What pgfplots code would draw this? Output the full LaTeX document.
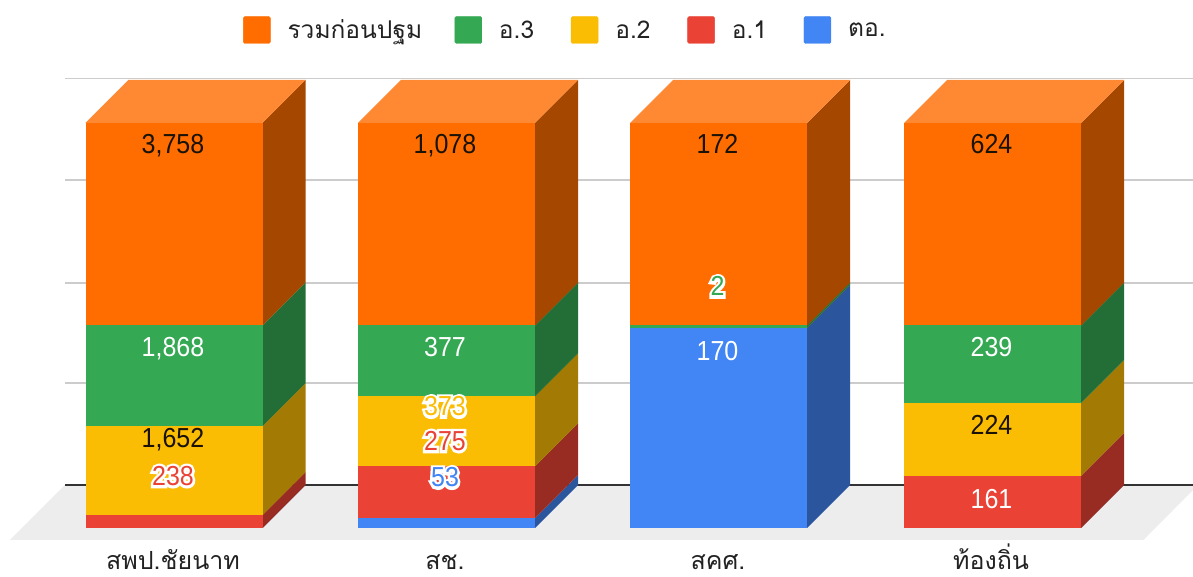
\documentclass[border=0pt]{standalone}
\usepackage{pgfplots}
\pgfplotsset{compat=1.18}
\usepackage{fontspec}
\setmainfont{Liberation Sans}
\newfontfamily\thaifont[Script=Thai]{Loma}
\newfontfamily\halofont[FakeBold=20]{Liberation Sans}
\definecolor{cO}{HTML}{FF6D00}\definecolor{sO}{HTML}{A64700}\definecolor{tO}{HTML}{FF8833}
\definecolor{cG}{HTML}{34A853}\definecolor{sG}{HTML}{226E36}
\definecolor{cY}{HTML}{FBBC04}\definecolor{sY}{HTML}{A37A03}
\definecolor{cR}{HTML}{EA4335}\definecolor{sR}{HTML}{982C22}
\definecolor{cB}{HTML}{4285F4}\definecolor{sB}{HTML}{2B569E}
\definecolor{gridc}{HTML}{CCCCCC}\definecolor{floorc}{HTML}{EDEDED}
\definecolor{txt}{HTML}{222222}\definecolor{lbl}{HTML}{1A1204}

% one segment: x, lower %, upper %, front colour, side colour
\newcommand\seg[5]{%
  \pgfmathsetmacro\xb{#1+177}\pgfmathsetmacro\xc{#1+220}%
  \pgfmathsetmacro\lob{#2+10.617}\pgfmathsetmacro\hib{#3+10.617}%
  \edef\temp{\noexpand\addplot[draw=none,fill=#5,forget plot] coordinates {(\xb,#2)(\xc,\lob)(\xc,\hib)(\xb,#3)} --cycle;
   \noexpand\addplot[draw=none,fill=#4,forget plot] coordinates {(#1,#2)(\xb,#2)(\xb,#3)(#1,#3)} --cycle;}\temp}
% one bar: x, then the counts from the bottom: ตอ., อ.1, อ.2, อ.3, รวมก่อนปฐม
\newcommand\stackbar[6]{%
  \pgfmathsetmacro\tot{#2+#3+#4+#5+#6}%
  \pgfmathsetmacro\pa{#2/\tot*100}\pgfmathsetmacro\pb{(#2+#3)/\tot*100}%
  \pgfmathsetmacro\pc{(#2+#3+#4)/\tot*100}\pgfmathsetmacro\pd{(#2+#3+#4+#5)/\tot*100}%
  \seg{#1}{0}{\pa}{cB}{sB}\seg{#1}{\pa}{\pb}{cR}{sR}\seg{#1}{\pb}{\pc}{cY}{sY}%
  \seg{#1}{\pc}{\pd}{cG}{sG}\seg{#1}{\pd}{100}{cO}{sO}%
  \pgfmathsetmacro\xb{#1+177}\pgfmathsetmacro\xc{#1+220}\pgfmathsetmacro\xd{#1+43}%
  \edef\temp{\noexpand\addplot[draw=none,fill=tO,forget plot] coordinates {(#1,100)(\xb,100)(\xc,110.617)(\xd,110.617)} --cycle;}\temp}
\newcommand\lab[4]{\node[text=#4,font=\fontsize{25}{25}\selectfont,inner sep=0pt,text height=20pt,text depth=0pt,anchor=center] at (axis cs:#1,{(528-#2)/4.05}) {\scalebox{1}[1.1]{#3}};}
\newcommand\hlab[4]{\node[text=white,font=\fontsize{25}{25}\halofont,inner sep=0pt,text height=20pt,text depth=0pt,anchor=center] at (axis cs:#1,{(528-#2)/4.05}) {\scalebox{1}[1.1]{#3}};
  \lab{#1}{#2}{#3}{#4}}
\newcommand\legtxt[2]{\makebox[#1pt][l]{\thaifont\fontsize{24.5}{24.5}\selectfont\textcolor{txt}{#2}}}

\begin{document}
\begin{tikzpicture}
\begin{axis}[
  at={(0,0)},anchor=south west,
  scale only axis,width=1193pt,height=548pt,
  xmin=0,xmax=1193,ymin=-4.938,ymax=130.37,
  axis line style={draw=none},tick style={draw=none},
  ytick=\empty,
  xtick={173,445,718,991},
  xticklabels={สพป.ชัยนาท,สช.,สคศ.,ท้องถิ่น},
  xticklabel style={font=\thaifont\fontsize{25}{25}\selectfont,text=txt,inner sep=0pt,text height=20pt,text depth=3pt,anchor=north,yshift=-1pt},
  legend columns=5,
  legend cell align=left,
  legend style={draw=none,fill=none,inner sep=0pt,at={(243/1193,1-30/548)},anchor=west,
    nodes={inner sep=0pt,anchor=west},column sep=0pt,
    /tikz/every odd column/.append style={column sep=17pt}},
  legend image code/.code={\fill[#1,rounded corners=1.5pt] (0pt,-13.5pt) rectangle (27pt,13.5pt);},
]
% floor
\addplot[draw=none,fill=floorc,forget plot] coordinates {(10,-2.963)(65,10.617)(1198,10.617)(1143.5,-2.963)} --cycle;
% gridlines on the back wall
\addplot[gridc,line width=1.5pt,forget plot] coordinates {(65,111.04)(1193,111.04)};
\addplot[gridc,line width=1.5pt,forget plot] coordinates {(65,85.9)(1193,85.9)};
\addplot[gridc,line width=1.5pt,forget plot] coordinates {(65,60.5)(1193,60.5)};
\addplot[gridc,line width=1.5pt,forget plot] coordinates {(65,35.8)(1193,35.8)};
\addplot[black!80,line width=1.5pt,forget plot] coordinates {(65,10.617)(1193,10.617)};
% bars
\stackbar{85.5}{0}{238}{1652}{1868}{3758}
\stackbar{358}{53}{275}{373}{377}{1078}
\stackbar{630}{170}{0}{0}{2}{172}
\stackbar{904}{0}{161}{224}{239}{624}
% legend
\addlegendimage{cO}\addlegendentry{\legtxt{167}{รวมก่อนปฐม}}
\addlegendimage{cG}\addlegendentry{\legtxt{72}{อ.3}}
\addlegendimage{cY}\addlegendentry{\legtxt{72}{อ.2}}
\addlegendimage{cR}\addlegendentry{\legtxt{72}{อ.1}}
\addlegendimage{cB}\addlegendentry{\legtxt{50}{ตอ.}}
% value labels
\lab{173}{144}{3,758}{lbl}
\lab{173}{347}{1,868}{white}
\lab{173}{438}{1,652}{lbl}
\hlab{173}{475.5}{238}{cR}
\lab{445}{144}{1,078}{lbl}
\lab{445}{347}{377}{white}
\hlab{445}{406}{373}{cY}
\hlab{445}{440.5}{275}{cR}
\hlab{445}{477}{53}{cB}
\lab{717.5}{144}{172}{lbl}
\hlab{717.5}{286}{2}{cG}
\lab{717.5}{351}{170}{white}
\lab{991.5}{144}{624}{lbl}
\lab{991.5}{347}{239}{white}
\lab{991.5}{425}{224}{lbl}
\lab{991.5}{499}{161}{white}
\end{axis}
\pgfresetboundingbox
\path[use as bounding box] (0pt,-29pt) rectangle (1193pt,548pt);
\end{tikzpicture}
\end{document}
